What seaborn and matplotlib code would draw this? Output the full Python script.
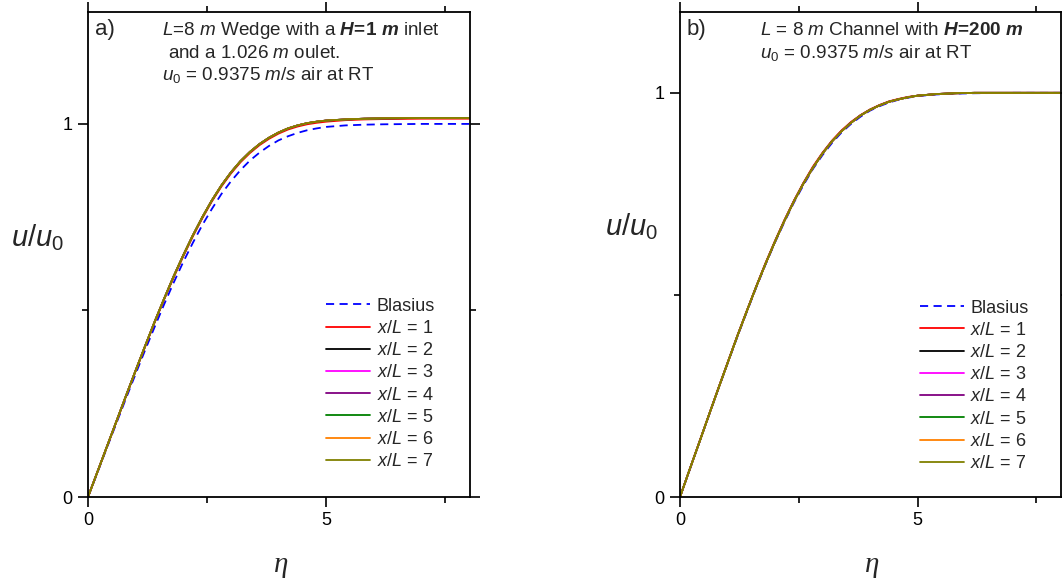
import numpy as np
import pandas as pd
import matplotlib
matplotlib.use("Agg")
import matplotlib.pyplot as plt
import seaborn as sns
from matplotlib.ticker import MultipleLocator

sns.set_theme(style="ticks")
plt.rcParams['font.family'] = ['Liberation Sans', 'DejaVu Sans']
plt.rcParams['mathtext.fontset'] = 'custom'
plt.rcParams['mathtext.rm'] = 'Liberation Sans'
plt.rcParams['mathtext.it'] = 'Liberation Sans:italic'
plt.rcParams['mathtext.bf'] = 'Liberation Sans:bold'
plt.rcParams['mathtext.bfit'] = 'Liberation Sans:bold:italic'

# ---------------- data ----------------
eta = [0, 0.2, 0.4, 0.6, 0.8, 1.0, 1.2, 1.4, 1.6, 1.8, 2.0, 2.2, 2.4, 2.6, 2.8,
       3.0, 3.2, 3.4, 3.6, 3.8, 4.0, 4.2, 4.4, 4.6, 4.8, 5.0, 5.4, 5.8, 6.2, 7.0, 8.0]

blasius = [0, 0.066, 0.133, 0.199, 0.265, 0.330, 0.394, 0.456, 0.517, 0.575, 0.630,
           0.681, 0.729, 0.772, 0.812, 0.846, 0.876, 0.902, 0.923, 0.941, 0.956,
           0.967, 0.976, 0.983, 0.988, 0.992, 0.996, 0.998, 0.999, 1.000, 1.000]

# panel a: wedge, x/L = 1 (slightly lower) and x/L = 2..7
wedge_x1 = [0, 0.068, 0.136, 0.203, 0.271, 0.338, 0.403, 0.468, 0.530, 0.589, 0.645,
            0.698, 0.747, 0.792, 0.832, 0.867, 0.897, 0.922, 0.943, 0.960, 0.974,
            0.985, 0.993, 0.999, 1.003, 1.006, 1.010, 1.012, 1.013, 1.014, 1.014]
wedge_x2to7 = [0, 0.068, 0.136, 0.204, 0.272, 0.339, 0.405, 0.470, 0.532, 0.592, 0.648,
               0.701, 0.750, 0.795, 0.835, 0.870, 0.900, 0.925, 0.946, 0.963, 0.977,
               0.988, 0.996, 1.002, 1.006, 1.009, 1.012, 1.014, 1.015, 1.016, 1.016]

# panel b: channel, all x/L nearly identical to Blasius
channel_x1 = [0, 0.067, 0.134, 0.200, 0.267, 0.332, 0.397, 0.459, 0.520, 0.579, 0.634,
              0.686, 0.734, 0.778, 0.818, 0.852, 0.882, 0.907, 0.928, 0.945, 0.959,
              0.970, 0.979, 0.985, 0.990, 0.993, 0.997, 0.999, 1.000, 1.000, 1.000]
channel_x2to7 = [0, 0.067, 0.133, 0.200, 0.266, 0.331, 0.396, 0.458, 0.519, 0.577, 0.632,
                 0.684, 0.732, 0.776, 0.815, 0.850, 0.880, 0.905, 0.926, 0.944, 0.958,
                 0.969, 0.978, 0.984, 0.989, 0.993, 0.997, 0.999, 1.000, 1.000, 1.000]

xl_labels = [1, 2, 3, 4, 5, 6, 7]
xl_colors = ["#FF0000", "#000000", "#FF00FF", "#800080", "#008000", "#FF8000", "#808000"]

x_ticks = [0, 5]
y_ticks = [0, 1]

# ---------------- figure ----------------
W, H = 1062, 580
fig = plt.figure(figsize=(W / 100, H / 100), dpi=100)
axA = fig.add_axes([88 / W, 1 - 497 / H, 382 / W, 485 / H])
axB = fig.add_axes([680 / W, 1 - 497 / H, 381 / W, 485 / H])


def draw(ax, curve_x1, curve_rest, ymax):
    df = pd.DataFrame({"eta": eta, "u": blasius})
    sns.lineplot(data=df, x="eta", y="u", ax=ax, color="#0000FF", lw=1.3,
                 linestyle=(0, (4.5, 3)), label="Blasius", sort=False)
    for n, c in zip(xl_labels, xl_colors):
        vals = curve_x1 if n == 1 else curve_rest
        d = pd.DataFrame({"eta": eta, "u": vals})
        sns.lineplot(data=d, x="eta", y="u", ax=ax, color=c, lw=1.3,
                     label=f"$x/L$ = {n}", sort=False)
    ax.set_xlim(0, 8.02)
    ax.set_ylim(0, ymax)
    ax.set_xticks(x_ticks)
    ax.set_yticks(y_ticks)
    ax.xaxis.set_minor_locator(MultipleLocator(2.5))
    ax.yaxis.set_minor_locator(MultipleLocator(0.5))
    ax.tick_params(which="both", direction="out", top=True, right=True,
                   labeltop=False, labelright=False, width=1.2, color="black",
                   labelsize=13, labelcolor="black")
    ax.tick_params(which="major", length=7, pad=4)
    ax.tick_params(which="minor", length=4.5)
    for s in ax.spines.values():
        s.set_linewidth(1.3)
        s.set_color("black")
    ax.set_xlabel("η", fontsize=21, family="Liberation Serif", style="italic",
                  va="center")
    ax.set_ylabel(r"$u/u_{\mathrm{0}}$", fontsize=21, rotation=0, va="center",
                  ha="center")
    ax.xaxis.set_label_coords(0.505, -0.14)


draw(axA, wedge_x1, wedge_x2to7, 1.30)
draw(axB, channel_x1, channel_x2to7, 1.20)

axA.yaxis.set_label_coords(-0.133, 0.535)
axB.yaxis.set_label_coords(-0.128, 0.558)

leg_kw = dict(frameon=False, fontsize=13, loc="upper left", borderaxespad=0,
              handlelength=2.45, handletextpad=0.35, labelspacing=0.29)
axA.legend(bbox_to_anchor=(0.604, 0.426), **leg_kw)
axB.legend(bbox_to_anchor=(0.61, 0.422), **leg_kw)

# annotations
fs = 13.6
axA.text(0.018, 0.953, "a)", transform=axA.transAxes, fontsize=16, va="baseline")
axA.text(0.194, 0.953,
         r"$L$=8 $m$ Wedge with a $\mathbfit{H}\!\mathbf{=}\!\mathbf{1}$ $\mathbfit{m}$ inlet",
         transform=axA.transAxes, fontsize=fs, va="baseline")
axA.text(0.209, 0.906, r"and a 1.026 $m$ oulet.", transform=axA.transAxes,
         fontsize=fs, va="baseline")
axA.text(0.194, 0.860, r"$u_{\mathrm{0}}$ = 0.9375 $m/s$ air at RT", transform=axA.transAxes,
         fontsize=fs, va="baseline")

axB.text(0.018, 0.953, "b)", transform=axB.transAxes, fontsize=16, va="baseline")
axB.text(0.209, 0.953,
         r"$L$ = 8 $m$ Channel with $\mathbfit{H}\!\mathbf{=}\!\mathbf{200}$ $\mathbfit{m}$",
         transform=axB.transAxes, fontsize=fs, va="baseline")
axB.text(0.209, 0.906, r"$u_{\mathrm{0}}$ = 0.9375 $m/s$ air at RT", transform=axB.transAxes,
         fontsize=fs, va="baseline")

fig.savefig("out.png", dpi=100)
